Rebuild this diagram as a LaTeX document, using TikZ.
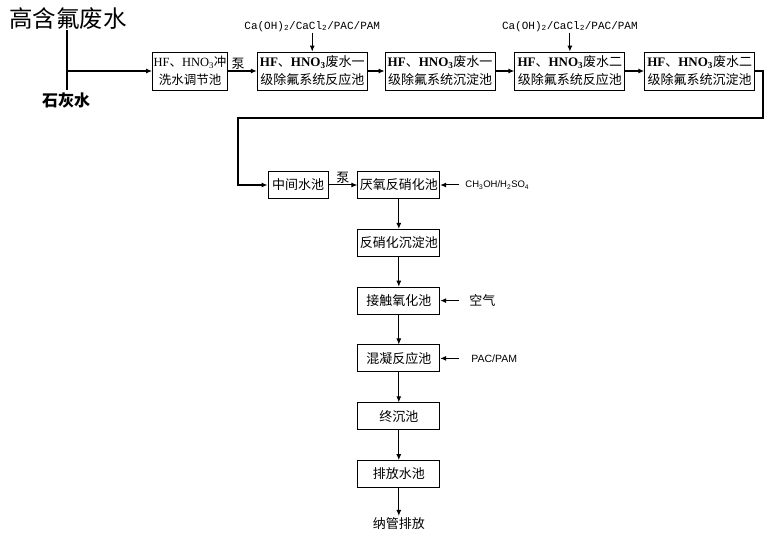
\documentclass[tikz,border=0pt]{standalone}
\usepackage{fontspec}
\setmainfont{Liberation Serif}
\setsansfont{Liberation Sans}
\setmonofont{Liberation Mono}
\newfontfamily\cjk{Noto Sans CJK SC}
\usetikzlibrary{arrows.meta,positioning}
\newcommand\acid{{\rmfamily\bfseries HF}、{\rmfamily\bfseries HNO\textsubscript{3}}}
\tikzset{
  box/.style   = {draw, line width=0.8pt, inner sep=2pt, minimum height=27pt, align=center, font=\cjk\fontsize{13}{18}\selectfont},
  wide/.style  = {minimum width=110pt, minimum height=38pt},
  tank/.style  = {minimum width=82pt},
  note/.style  = {font=\cjk\fontsize{13}{15}\selectfont, inner sep=1pt},
  dose/.style  = {font=\ttfamily\fontsize{11}{13}\selectfont, inner sep=1pt},
  line/.style  = {-{Latex[length=6pt,width=5pt]}, line width=1pt},
  pipe/.style  = {line width=1.8pt},
}

\begin{document}
\begin{tikzpicture}[x=1pt,y=1pt,node distance=30pt]
    \useasboundingbox (0,0) rectangle (772,-540);
    % feed and lime water
    \node[inner sep=0pt, font=\cjk\fontsize{23.5}{26}\selectfont] (src) at (68,-19) {高含氟废水};
    \node[inner sep=2pt, font=\cjk\bfseries\fontsize{16}{18}\selectfont] (lime) at (66,-100) {石灰水};
    \coordinate (jn) at (67,-71);

    % defluorination line
    \node[box,minimum width=74pt,minimum height=38pt,inner xsep=1pt,font=\cjk\fontsize{12.5}{18}\selectfont] (adj) at (190,-71) {{\rmfamily HF}、{\rmfamily HNO\textsubscript{3}}冲\\洗水调节池};
    \node[box,wide,right=29pt of adj] (r1) {\acid 废水一\\级除氟系统反应池};
    \node[box,wide,right=17pt of r1] (s1) {\acid 废水一\\级除氟系统沉淀池};
    \node[box,wide,right=19pt of s1] (r2) {\acid 废水二\\级除氟系统反应池};
    \node[box,wide,right=19pt of r2] (s2) {\acid 废水二\\级除氟系统沉淀池};
    \node[dose,above=19pt of r1] (dose1) {Ca(OH)\textsubscript{2}/CaCl\textsubscript{2}/PAC/PAM};
    \node[dose,above=19pt of r2] (dose2) {Ca(OH)\textsubscript{2}/CaCl\textsubscript{2}/PAC/PAM};

    % denitrification line
    \node[box,minimum width=60pt] (mid) at (298,-185) {中间水池};
    \node[box,tank,right=29pt of mid] (anox) {厌氧反硝化池};
    \node[box,tank,below=of anox] (dsed) {反硝化沉淀池};
    \node[box,tank,below=of dsed] (ox) {接触氧化池};
    \node[box,tank,below=of ox] (coag) {混凝反应池};
    \node[box,tank,below=of coag] (fsed) {终沉池};
    \node[box,tank,below=of fsed] (outlet) {排放水池};
    \node[note,below=28pt of outlet] (sewer) {纳管排放};
    \node[inner xsep=6pt, font=\sffamily\fontsize{9.5}{11}\selectfont, right=19pt of anox] (meoh) {CH\textsubscript{3}OH/H\textsubscript{2}SO\textsubscript{4}};
    \node[note, inner xsep=10pt, right=19pt of ox] (air) {空气};
    \node[inner xsep=12pt, font=\sffamily\fontsize{10.5}{12}\selectfont, right=19pt of coag] (pac) {PAC/PAM};

    \coordinate (turnR) at (763,-118);
    \coordinate (turnL) at (238,-118);

    \draw[pipe] (src.south -| jn) -- (lime.north -| jn);
    \draw[line,pipe] (jn) -- (adj);
    \draw[line,line width=1.4pt] (adj) -- node[note,above,pos=0.35] {泵} (r1);
    \draw[line,line width=1.4pt] (r1) -- (s1);
    \draw[line,line width=1.4pt] (s1) -- (r2);
    \draw[line,line width=1.4pt] (r2) -- (s2);
    \draw[line] (dose1) -- (r1);
    \draw[line] (dose2) -- (r2);
    \draw[line,pipe] (s2.east) -| (turnR) -- (turnL) |- (mid);
    \draw[line] (mid) -- node[note,above] {泵} (anox);
    \draw[line] (anox) -- (dsed);
    \draw[line] (dsed) -- (ox);
    \draw[line] (ox) -- (coag);
    \draw[line] (coag) -- (fsed);
    \draw[line] (fsed) -- (outlet);
    \draw[line] (outlet) -- (sewer);
    \draw[line] (meoh) -- (anox);
    \draw[line] (air) -- (ox);
    \draw[line] (pac) -- (coag);
  \end{tikzpicture}
\end{document}
